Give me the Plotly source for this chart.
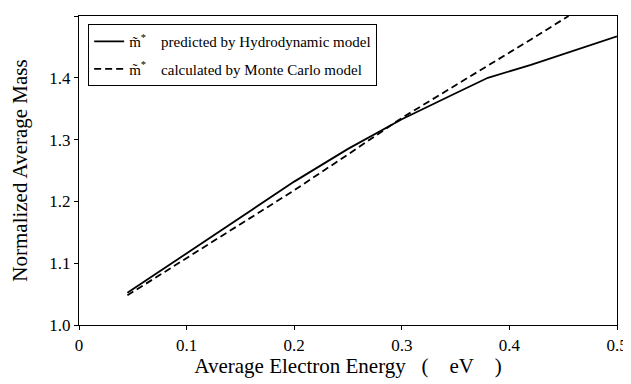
import plotly.graph_objects as go

hydro_x = [0.045, 0.1, 0.15, 0.2, 0.25, 0.3, 0.35, 0.38, 0.42, 0.46, 0.49, 0.5]
hydro_y = [1.052, 1.116, 1.174, 1.232, 1.285, 1.333, 1.375, 1.40, 1.421, 1.444, 1.462, 1.467]
mc_x = [0.045, 0.1, 0.15, 0.2, 0.25, 0.3, 0.35, 0.39, 0.42, 0.455]
mc_y = [1.048, 1.108, 1.163, 1.218, 1.276, 1.335, 1.388, 1.43, 1.462, 1.5]

x_ticks = [0, 0.1, 0.2, 0.3, 0.4, 0.5]
x_ticklabels = ["0", "0.1", "0.2", "0.3", "0.4", "0.5"]
y_ticks = [1.0, 1.1, 1.2, 1.3, 1.4, 1.5]
y_ticklabels = ["1.0", "1.1", "1.2", "1.3", "1.4", "1.5"]

font = "Liberation Serif"

fig = go.Figure()
fig.add_trace(go.Scatter(x=hydro_x, y=hydro_y, mode="lines",
                         line=dict(color="black", width=1.8), legendgroup="a",
                         name="m\u0303<sup>*</sup>    predicted by Hydrodynamic model"))
fig.add_trace(go.Scatter(x=mc_x, y=mc_y, mode="lines",
                         line=dict(color="black", width=1.8, dash="7px,4px"), legendgroup="b",
                         name="m\u0303<sup>*</sup>    calculated by Monte Carlo model"))

axis_common = dict(showline=True, linecolor="black", linewidth=1.2, mirror=True,
                   ticks="outside", ticklen=4, tickcolor="black", showgrid=False,
                   zeroline=False, automargin=False,
                   tickfont=dict(family=font, size=17, color="black"))

# page body has an 8px default margin; figure sized to fill the window exactly
fig.update_layout(
    width=623, height=376,
    margin=dict(l=71, r=14, t=8, b=59),
    paper_bgcolor="white", plot_bgcolor="white",
    font=dict(family=font, color="black"),
    xaxis=dict(range=[0, 0.5], tickvals=x_ticks, ticktext=x_ticklabels,
               title=dict(text="Average Electron Energy   (    eV    )",
                          font=dict(family=font, size=21), standoff=3),
               **axis_common),
    yaxis=dict(range=[1.0, 1.5], tickvals=y_ticks, ticktext=y_ticklabels,
               title=dict(text="Normalized Average Mass",
                          font=dict(family=font, size=21), standoff=18),
               **axis_common),
    legend=dict(x=0.017, y=0.974, xanchor="left", yanchor="top",
                bordercolor="black", borderwidth=1, bgcolor="white",
                font=dict(family=font, size=15), tracegroupgap=5),
    showlegend=True,
)

fig.write_html("out.html")
